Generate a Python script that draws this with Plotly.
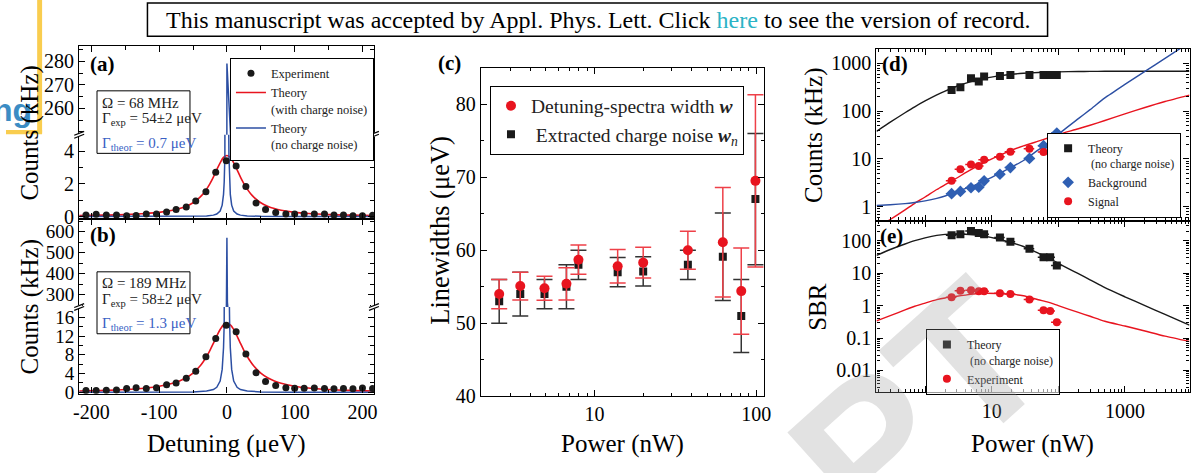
import plotly.graph_objects as go

W, H = 1198, 473
SERIF = "Liberation Serif, Times New Roman, serif"
RED = "#e8141f"
RED_ERR = "#ee4048"
BLUE = "#2c4fa3"
BLK = "#1a1a1a"

# ---------------- data: panels (a) and (b) ----------------
det_x = [-208, -193, -178, -163, -148, -134, -119, -104, -89, -75, -60, -46, -31, -16.5, -1,
         13.6, 28, 43, 57, 72, 87, 100, 114, 129, 144, 158, 172, 186, 200, 215]
a_counts = [0.10, 0.14, 0.09, 0.10, 0.05, 0.06, 0.15, 0.15, 0.28, 0.43, 0.59, 0.96, 1.52, 2.72, 3.42,
            3.10, 1.85, 0.83, 0.43, 0.25, 0.15, 0.15, 0.15, 0.16, 0.15, 0.10, 0.10, 0.05, 0.05, 0.08]
b_counts = [0.40, 0.40, 0.45, 0.50, 0.80, 1.00, 0.80, 1.00, 1.60, 2.00, 3.00, 4.50, 7.60, 11.5, 14.3,
            12.9, 8.20, 4.20, 2.30, 1.45, 1.00, 0.85, 0.90, 0.95, 0.80, 0.75, 0.80, 0.75, 0.95, 0.80]
det_ticks = [-200, -100, 0, 100, 200]
det_tick_text = ["-200", "-100", "0", "100", "200"]

red_x = [-218, -180, -150, -120, -100, -80, -70, -60, -50, -40, -35, -30, -25, -20, -15, -10, -5, 0,
         5, 10, 15, 20, 25, 30, 35, 40, 50, 60, 70, 80, 100, 120, 150, 180, 217]
a_red = [0.056, 0.083, 0.117, 0.181, 0.254, 0.383, 0.486, 0.633, 0.847, 1.18, 1.40, 1.68, 2.02, 2.42, 2.87, 3.30, 3.63, 3.75,
         3.63, 3.30, 2.87, 2.42, 2.02, 1.68, 1.40, 1.18, 0.847, 0.633, 0.486, 0.383, 0.254, 0.181, 0.117, 0.083, 0.057]
b_red = [0.293, 0.426, 0.606, 0.926, 1.30, 1.93, 2.43, 3.12, 4.11, 5.55, 6.51, 7.65, 8.97, 10.45, 12.0, 13.4, 14.4, 14.8,
         14.4, 13.4, 12.0, 10.45, 8.97, 7.65, 6.51, 5.55, 4.11, 3.12, 2.43, 1.93, 1.30, 0.926, 0.606, 0.426, 0.295]

blue_x = [-218, -100, -50, -30, -20, -15, -10, -7, -5, -4, -3, -2, -1.5, -1, -0.7, -0.5, -0.35, -0.2, 0,
          0.2, 0.35, 0.5, 0.7, 1, 1.5, 2, 3, 4, 5, 7, 10, 15, 20, 30, 50, 100, 217]
a_blue = [0.001, 0.003, 0.014, 0.038, 0.085, 0.15, 0.34, 0.70, 1.36, 2.12, 3.73, 8.3, 14.4, 30.5, 55.8, 91.7, 139.5, 210, 279,
          210, 139.5, 91.7, 55.8, 30.5, 14.4, 8.3, 3.73, 2.12, 1.36, 0.70, 0.34, 0.15, 0.085, 0.038, 0.014, 0.003, 0.001]
b_blue = [0.005, 0.024, 0.097, 0.27, 0.60, 1.07, 2.41, 4.89, 9.52, 14.7, 25.6, 54.9, 90.9, 169, 265, 359, 443, 522, 572,
          522, 443, 359, 265, 169, 90.9, 54.9, 25.6, 14.7, 9.52, 4.89, 2.41, 1.07, 0.60, 0.27, 0.097, 0.024, 0.005]

# ---------------- data: panel (c) ----------------
c_power = [2.57, 3.47, 4.9, 6.7, 7.95, 13.9, 20, 37.8, 62.2, 80.9, 99]
c_w = [54.0, 55.1, 54.8, 55.4, 58.7, 57.8, 58.3, 60.0, 61.1, 54.4, 69.5]
c_w_err = [2.0, 1.9, 1.65, 2.2, 2.0, 2.3, 2.1, 2.6, 7.5, 5.9, 11.8]
c_wn = [53.0, 54.0, 54.0, 55.0, 58.0, 57.0, 57.1, 58.0, 59.1, 51.0, 67.0]
c_wn_err = [3.0, 3.0, 2.0, 3.0, 2.0, 2.0, 2.0, 2.0, 6.0, 5.0, 9.0]

# ---------------- data: panels (d) and (e) ----------------
de_power = [2.5, 3.39, 4.89, 6.4, 7.7, 13.3, 19.1, 36.9, 60, 75.5, 95]
d_theory = [277, 318, 493, 422, 535, 550, 575, 575, 575, 575, 575]
d_background = [1.88, 2.09, 2.5, 2.57, 3.5, 4.8, 6.6, 10.3, 19, 19, 35]
d_signal = [3.5, 6.1, 7.7, 7.1, 9.6, 11.2, 14.2, 16.4, 14.1, 13.6, 11.2]
e_theory = [148, 160, 200, 174, 160, 126, 93, 57, 31, 31, 17.4]
e_experiment = [1.83, 2.9, 3.0, 2.77, 2.77, 2.4, 2.3, 1.56, 0.72, 0.69, 0.31]

curve_P = [0.187, 0.3, 0.5, 0.7, 1, 1.5, 2, 3, 4, 6, 8, 12, 20, 30, 50, 70, 100, 200, 300, 500, 1000, 2000, 4000, 9300]
d_theory_curve = [38, 59, 93, 124, 164, 220, 265, 334, 383, 450, 493, 545, 595, 623, 648, 660, 669, 679, 683, 686, 688, 689, 690, 690]
d_bg_curve = [1.07, 1.1, 1.16, 1.23, 1.33, 1.5, 1.68, 2.05, 2.4, 2.95, 3.55, 4.7, 6.8, 9.3, 15.5, 21.5, 33, 70, 108, 190, 365, 685, 1280, 2760]
d_sig_curve = [0.36, 0.54, 0.86, 1.18, 1.6, 2.3, 2.9, 4.0, 5.1, 7.0, 8.6, 11.2, 15.3, 18.8, 23.6, 27.5, 32.5, 43, 51, 64, 88, 120, 160, 218]
e_theory_curve = [35.5, 54, 80, 101, 123, 147, 158, 163, 160, 152, 139, 116, 87.5, 67, 42, 30.7, 20.3, 9.7, 6.3, 3.6, 1.88, 1.0, 0.54, 0.25]
e_exp_curve = [0.34, 0.49, 0.74, 0.96, 1.2, 1.53, 1.73, 1.95, 2.12, 2.37, 2.42, 2.38, 2.25, 2.02, 1.52, 1.28, 1.0, 0.62, 0.47, 0.33, 0.235, 0.165, 0.115, 0.079]


def fx(px):
    return px / W


def fy(py):
    return 1 - py / H


fig = go.Figure()

# ---- (a) lower & upper ----
fig.add_trace(go.Scatter(x=red_x, y=a_red, mode="lines", line=dict(color=RED, width=1.6, shape="spline"),
                         name="Theory<br>(with charge noise)", legend="legend", legendrank=2, xaxis="x", yaxis="y"))
fig.add_trace(go.Scatter(x=blue_x, y=a_blue, mode="lines", line=dict(color=BLUE, width=1.5),
                         name="Theory<br>(no charge noise)", legend="legend", legendrank=3, xaxis="x", yaxis="y"))
fig.add_trace(go.Scatter(x=det_x, y=a_counts, mode="markers", marker=dict(color=BLK, size=7),
                         name="Experiment", legend="legend", legendrank=1, xaxis="x", yaxis="y"))
fig.add_trace(go.Scatter(x=blue_x, y=a_blue, mode="lines", line=dict(color=BLUE, width=1.5),
                         showlegend=False, xaxis="x2", yaxis="y2"))

# ---- (b) lower & upper ----
fig.add_trace(go.Scatter(x=red_x, y=b_red, mode="lines", line=dict(color=RED, width=1.6, shape="spline"),
                         showlegend=False, xaxis="x3", yaxis="y3"))
fig.add_trace(go.Scatter(x=blue_x, y=b_blue, mode="lines", line=dict(color=BLUE, width=1.5),
                         showlegend=False, xaxis="x3", yaxis="y3"))
fig.add_trace(go.Scatter(x=det_x, y=b_counts, mode="markers", marker=dict(color=BLK, size=7),
                         showlegend=False, xaxis="x3", yaxis="y3"))
fig.add_trace(go.Scatter(x=blue_x, y=b_blue, mode="lines", line=dict(color=BLUE, width=1.5),
                         showlegend=False, xaxis="x4", yaxis="y4"))

# ---- (c) ----
fig.add_trace(go.Scatter(x=c_power, y=c_wn, mode="markers",
                         marker=dict(color=BLK, size=8, symbol="square"),
                         error_y=dict(type="data", array=c_wn_err, color="#333333", thickness=1.5, width=8),
                         name="&nbsp;Extracted charge noise <b><i>w</i></b><sub><i>n</i></sub>",
                         legend="legend2", legendrank=2, xaxis="x5", yaxis="y5"))
fig.add_trace(go.Scatter(x=c_power, y=c_w, mode="markers",
                         marker=dict(color=RED, size=10, symbol="circle"),
                         error_y=dict(type="data", array=c_w_err, color=RED_ERR, thickness=1.5, width=8),
                         name="Detuning-spectra width <b><i>w</i></b>",
                         legend="legend2", legendrank=1, xaxis="x5", yaxis="y5"))

# ---- (d) ----
fig.add_trace(go.Scatter(x=curve_P, y=d_theory_curve, mode="lines", line=dict(color=BLK, width=1.4, shape="spline", smoothing=0.6),
                         showlegend=False, xaxis="x6", yaxis="y6"))
fig.add_trace(go.Scatter(x=curve_P, y=d_sig_curve, mode="lines", line=dict(color=RED, width=1.4, shape="spline", smoothing=0.6),
                         showlegend=False, xaxis="x6", yaxis="y6"))
fig.add_trace(go.Scatter(x=curve_P, y=d_bg_curve, mode="lines", line=dict(color=BLUE, width=1.4, shape="spline", smoothing=0.6),
                         showlegend=False, xaxis="x6", yaxis="y6"))
fig.add_trace(go.Scatter(x=de_power, y=d_theory, mode="markers", marker=dict(color=BLK, size=8, symbol="square"),
                         name="Theory<br>&nbsp;(no charge noise)", legend="legend3", legendrank=1, xaxis="x6", yaxis="y6"))
fig.add_trace(go.Scatter(x=de_power, y=d_background, mode="markers", marker=dict(color="#2f5fb3", size=9, symbol="diamond"),
                         error_x=dict(type="percent", value=18, color="#2f5fb3", thickness=1.5, width=0),
                         name="Background", legend="legend3", legendrank=2, xaxis="x6", yaxis="y6"))
fig.add_trace(go.Scatter(x=de_power, y=d_signal, mode="markers", marker=dict(color=RED, size=8, symbol="circle"),
                         error_x=dict(type="percent", value=18, color=RED, thickness=1.5, width=0),
                         name="Signal", legend="legend3", legendrank=3, xaxis="x6", yaxis="y6"))

# ---- (e) ----
fig.add_trace(go.Scatter(x=curve_P, y=e_theory_curve, mode="lines", line=dict(color=BLK, width=1.4, shape="spline", smoothing=0.6),
                         showlegend=False, xaxis="x7", yaxis="y7"))
fig.add_trace(go.Scatter(x=curve_P, y=e_exp_curve, mode="lines", line=dict(color=RED, width=1.4, shape="spline", smoothing=0.6),
                         showlegend=False, xaxis="x7", yaxis="y7"))
fig.add_trace(go.Scatter(x=de_power, y=e_theory, mode="markers", marker=dict(color=BLK, size=8, symbol="square"),
                         error_x=dict(type="percent", value=18, color=BLK, thickness=1.5, width=0),
                         name="Theory<br>&nbsp;(no charge noise)", legend="legend4", legendrank=1, xaxis="x7", yaxis="y7"))
fig.add_trace(go.Scatter(x=de_power, y=e_experiment, mode="markers", marker=dict(color=RED, size=8, symbol="circle"),
                         error_x=dict(type="percent", value=18, color=RED, thickness=1.5, width=0),
                         name="Experiment", legend="legend4", legendrank=2, xaxis="x7", yaxis="y7"))


# ---------------- axes ----------------
def ax(**kw):
    d = dict(showline=True, linecolor="black", linewidth=1.3, ticks="inside", ticklen=6, tickwidth=1.2,
             tickcolor="black", showgrid=False, zeroline=False,
             tickfont=dict(family=SERIF, size=20, color="black"))
    d.update(kw)
    return d


def mlin(dt):
    return dict(dtick=dt, tick0=0, ticks="inside", ticklen=3.5, tickwidth=1, tickcolor="black", showgrid=False)


LOG_MINOR = [k * 10.0 ** e for e in range(-3, 4) for k in range(2, 10)]


def mlog():
    return dict(tickmode="array", tickvals=LOG_MINOR, ticks="inside", ticklen=3.5, tickwidth=1,
                tickcolor="black", showgrid=False)


XAB = [fx(74), fx(372)]
F19 = dict(family=SERIF, size=19, color="black")
layout_axes = dict(
    xaxis=ax(domain=XAB, anchor="y", range=[-218, 217], tickvals=det_ticks, showticklabels=False, minor=mlin(50)),
    yaxis=ax(domain=[fy(224.5), fy(138)], anchor="x", range=[-0.17, 5.02], tickvals=[0, 2, 4], mirror="allticks",
             minor=mlin(1)),
    xaxis2=ax(domain=XAB, anchor="y2", matches="x", side="top", tickvals=det_ticks, showticklabels=False, minor=mlin(50)),
    yaxis2=ax(domain=[fy(138), fy(47)], anchor="x2", range=[248.8, 286.5], tickvals=[260, 270, 280], mirror="allticks",
              minor=mlin(5)),
    xaxis3=ax(domain=XAB, anchor="y3", range=[-218, 217], tickvals=det_ticks, ticktext=det_tick_text, minor=mlin(50)),
    yaxis3=ax(domain=[fy(403), fy(314.3)], anchor="x3", range=[-0.27, 18.2], tickvals=[0, 4, 8, 12, 16], mirror="allticks",
              minor=mlin(2), tickfont=F19),
    xaxis4=ax(domain=XAB, anchor="y4", matches="x3", side="top", tickvals=det_ticks, showticklabels=False, minor=mlin(50)),
    yaxis4=ax(domain=[fy(314.3), fy(224.5)], anchor="x4", range=[241, 660], tickvals=[300, 400, 500, 600], mirror="allticks",
              minor=mlin(50), tickfont=F19),
    xaxis5=ax(domain=[fx(480), fx(766.7)], anchor="y5", type="log", range=[0.296, 2.051], tickvals=[10, 100],
              mirror="allticks", minor=mlog()),
    yaxis5=ax(domain=[fy(405.7), fy(69.3)], anchor="x5", range=[40, 85], dtick=10, tick0=0, mirror="allticks", minor=mlin(5)),
    xaxis6=ax(domain=[fx(880), fx(1196.5)], anchor="y6", type="log", range=[-0.73, 3.97], tickvals=[1, 10, 100, 1000],
              showticklabels=False, mirror="allticks", minor=mlog()),
    yaxis6=ax(domain=[fy(226), fy(50)], anchor="x6", type="log", range=[-0.293, 3.307], tickvals=[1, 10, 100, 1000],
              ticktext=["1", "10", "100", "1000"], mirror="allticks", minor=mlog()),
    xaxis7=ax(domain=[fx(880), fx(1196.5)], anchor="y7", type="log", matches="x6", tickvals=[1, 10, 100, 1000],
              ticktext=[" ", "10", " ", "1000"], mirror="allticks", minor=mlog()),
    yaxis7=ax(domain=[fy(401.7), fy(226)], anchor="x7", type="log", range=[-2.675, 2.62],
              tickvals=[0.01, 0.1, 1, 10, 100], ticktext=["0.01", "0.1", "1", "10", "100"], mirror="allticks", minor=mlog()),
)


# ---------------- legends ----------------
def leg(x, y, size, xanchor="left", **kw):
    d = dict(x=fx(x), y=fy(y), xanchor=xanchor, yanchor="top", bgcolor="white", bordercolor="black", borderwidth=1,
             font=dict(family=SERIF, size=size, color="#222"), itemwidth=30, tracegroupgap=0, valign="top")
    d.update(kw)
    return d


legends = dict(
    legend=leg(372, 59, 12.5, xanchor="right"),
    legend2=leg(489.3, 87.7, 19.5),
    legend3=leg(1188, 136, 12, xanchor="right"),
    legend4=leg(930, 337, 12, bgcolor="rgba(255,255,255,0.6)"),
)

# ---------------- annotations ----------------
ann = []


def text(x, y, s, size=20, color="black", xanchor="center", yanchor="middle", angle=0, family=SERIF, **kw):
    ann.append(dict(x=fx(x), y=fy(y), xref="paper", yref="paper", text=s, showarrow=False,
                    font=dict(family=family, size=size, color=color), xanchor=xanchor, yanchor=yanchor,
                    textangle=angle, **kw))


# watermark fragment
text(922, 416, "<b>PT</b>", size=200, color="rgba(150,150,150,0.28)", angle=-42, family="Liberation Sans, Arial")

# banner
text(598, 20, 'This manuscript was accepted by Appl. Phys. Lett. Click <span style="color:#2bb3c6">here</span> to see the version of record.',
     size=24)
# left logo fragment
text(28, 113, "<b>ng</b>", size=32, color="#3b8cc4", xanchor="right", family="Liberation Sans, Arial")

# axis titles
text(223, 455, "Detuning (μeV)", size=25)
text(24, 136, "Counts (kHz)", size=25, angle=-90)
text(24, 314, "Counts (kHz)", size=25, angle=-90)
text(438, 236, "Linewidths (μeV)", size=26.5, angle=-90)
text(623, 455, "Power (nW)", size=25)
text(817, 139, "Counts (kHz)", size=25, angle=-90)
text(821, 314, "SBR", size=25, angle=-90)
text(1038, 455, "Power (nW)", size=25)

# panel labels
text(83, 66, "<b>(a)</b>", size=21, xanchor="left")
text(83, 241, "<b>(b)</b>", size=21, xanchor="left")
text(435, 64, "<b>(c)</b>", size=21, xanchor="left")
text(884, 66, "<b>(d)</b>", size=21, xanchor="left")
text(882, 242, "<b>(e)</b>", size=21, xanchor="left")

# info boxes
text(95, 105, "Ω = 68 MHz", size=15, xanchor="left", color="#222")
text(95, 122, "Γ<sub>exp</sub> = 54±2 μeV", size=15, xanchor="left", color="#222")
text(95, 147, "Γ<sub>theor</sub> = 0.7 μeV", size=15, xanchor="left", color="#3a5fc4")
text(95, 290, "Ω = 189 MHz", size=15, xanchor="left", color="#222")
text(95, 307, "Γ<sub>exp</sub> = 58±2 μeV", size=15, xanchor="left", color="#222")
text(95, 332, "Γ<sub>theor</sub> = 1.3 μeV", size=15, xanchor="left", color="#3a5fc4")

# ---------------- shapes ----------------
shapes = []


def rect(x0, y0, x1, y1, line="black", fill=None, lw=1):
    shapes.append(dict(type="rect", xref="paper", yref="paper", x0=fx(x0), x1=fx(x1), y0=fy(y0), y1=fy(y1),
                       line=dict(color=line, width=lw), fillcolor=fill, layer="above"))


def seg(x0, y0, x1, y1, color="black", lw=1.2):
    shapes.append(dict(type="line", xref="paper", yref="paper", x0=fx(x0), x1=fx(x1), y0=fy(y0), y1=fy(y1),
                       line=dict(color=color, width=lw), layer="above"))


rect(143, 3, 1053, 37, lw=1.5)
rect(31.5, 0, 36.5, 136, line="rgba(0,0,0,0)", fill="#f9cd4f")
rect(0, 133, 36.5, 137.5, line="rgba(0,0,0,0)", fill="#f9cd4f")
rect(92, 93, 186, 157)
rect(92, 278.3, 186, 341.7)

# axis break marks
for bx in (74, 372):
    for by in (138, 314.3):
        rect(bx - 3, by - 2, bx + 3, by + 2, line="rgba(0,0,0,0)", fill="white")
        seg(bx - 5, by + 0.5, bx + 5, by - 3.5)
        seg(bx - 5, by + 3.5, bx + 5, by - 0.5)

fig.update_layout(
    width=W, height=H, margin=dict(l=0, r=0, t=0, b=0),
    paper_bgcolor="white", plot_bgcolor="rgba(0,0,0,0)",
    font=dict(family=SERIF, color="black"),
    annotations=ann, shapes=shapes, **layout_axes, **legends,
)

fig.write_html(
    "out.html",
    config={"displayModeBar": False},
    post_script="document.documentElement.style.margin='0';document.body.style.margin='0';"
                "document.body.style.padding='0';document.body.style.overflow='hidden';",
)
